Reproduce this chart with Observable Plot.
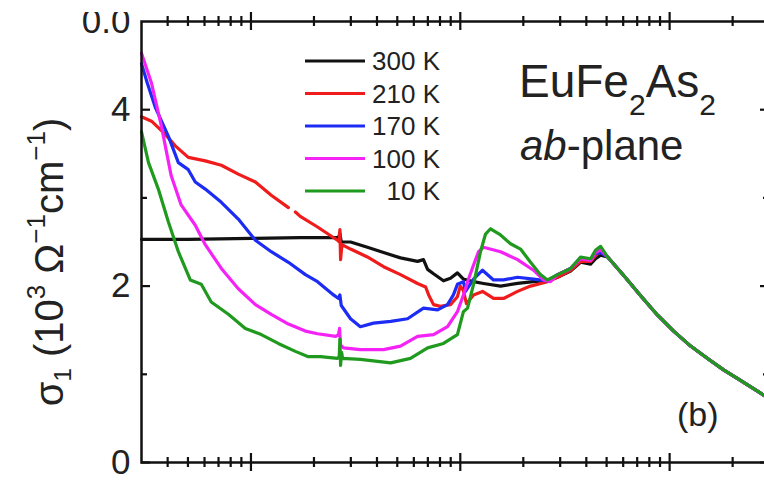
<!DOCTYPE html>
<html><head><meta charset="utf-8">
<script src="https://cdn.jsdelivr.net/npm/d3@7"></script>
<script src="https://cdn.jsdelivr.net/npm/@observablehq/plot@0.6"></script>
<style>
html,body{margin:0;padding:0;background:#fff;overflow:hidden;}
#wrap{position:relative;width:764px;height:482px;overflow:hidden;background:#fff;}
</style></head><body><div id="wrap"></div>
<script>
// ---- data (frequency in cm^-1, sigma_1 in 10^3 Ohm^-1 cm^-1) ----
const seriesNames = ["300 K", "210 K", "170 K", "100 K", "10 K"];
const seriesColors = ["#111111", "#f01c1c", "#1c2cf5", "#f522f5", "#1f9a1f"];

const freq300 = [30, 50, 100, 172, 248, 262, 266, 270, 299, 360, 430, 518, 625, 667, 698, 745, 831, 898, 969, 1035, 1157, 1291, 1557, 1877, 2237, 2610, 2915, 3365, 3757, 4193, 4431, 4681];
const sig300  = [2.53, 2.53, 2.54, 2.55, 2.55, 2.55, 2.60, 2.50, 2.50, 2.44, 2.38, 2.32, 2.28, 2.30, 2.19, 2.14, 2.06, 2.09, 2.15, 2.08, 2.05, 2.03, 2.00, 2.03, 2.05, 2.06, 2.10, 2.17, 2.27, 2.25, 2.31, 2.35];

const freq210 = [30, 33.5, 39, 43.5, 50.2, 60.5, 72.2, 87, 105, 125, 151, 157, 163, 172, 208, 259, 264, 266, 268, 272, 299, 360, 430, 518, 625, 683, 706, 745, 804, 898, 969, 1000, 1035, 1070, 1157, 1277, 1441, 1608, 1877, 2166, 2610, 2915, 3365, 3757, 4193, 4431, 4681];
const sig210  = [3.92, 3.87, 3.72, 3.59, 3.46, 3.42, 3.37, 3.27, 3.18, 3.03, 2.89, NaN, 2.84, 2.79, 2.67, 2.52, 2.50, 2.64, 2.30, 2.47, 2.42, 2.33, 2.22, 2.13, 2.03, 1.99, 1.90, 1.79, 1.77, 1.79, 1.88, 2.00, 1.95, 1.80, 1.90, 1.94, 1.86, 1.86, 1.94, 2.00, 2.05, 2.10, 2.18, 2.28, 2.28, 2.35, 2.39];

const freq170 = [30, 32, 35, 40.3, 45, 50.2, 54.2, 60.5, 72.2, 87, 105, 125, 151, 182, 208, 248, 262, 266, 270, 299, 333, 385, 465, 560, 667, 779, 869, 927, 969, 1035, 1059, 1157, 1277, 1441, 1608, 1877, 2237, 2610, 2915, 3365, 3757, 4193, 4431, 4681];
const sig170  = [4.52, 4.30, 4.02, 3.70, 3.40, 3.32, 3.18, 3.10, 2.95, 2.76, 2.52, 2.39, 2.27, 2.13, 2.05, 1.90, 1.86, 1.90, 1.78, 1.63, 1.54, 1.58, 1.60, 1.63, 1.75, 1.73, 1.79, 1.90, 2.02, 2.05, 1.94, 2.08, 2.18, 2.07, 2.07, 2.10, 2.08, 2.06, 2.13, 2.20, 2.32, 2.30, 2.37, 2.38];

const freq100 = [30, 33.5, 37.3, 41.6, 46.4, 54.2, 60.5, 72.2, 87, 105, 125, 151, 182, 208, 254, 262, 265, 268, 277, 333, 430, 518, 625, 745, 869, 969, 1035, 1095, 1157, 1222, 1291, 1557, 1877, 2237, 2497, 2697, 2915, 3365, 3757, 4193, 4431, 4681];
const sig100  = [4.64, 4.30, 3.82, 3.25, 2.92, 2.69, 2.47, 2.20, 1.97, 1.79, 1.68, 1.57, 1.49, 1.46, 1.43, 1.45, 1.52, 1.33, 1.30, 1.28, 1.28, 1.32, 1.43, 1.45, 1.54, 1.71, 1.90, 2.08, 2.24, 2.39, 2.44, 2.39, 2.30, 2.18, 2.07, 2.05, 2.13, 2.20, 2.31, 2.29, 2.38, 2.41];

const freq10 = [30, 32.4, 36.1, 40.3, 45, 51.3, 57.9, 64.6, 78, 94, 112, 135, 163, 188, 215, 259, 264, 266, 268, 271, 274, 333, 465, 578, 698, 831, 969, 1035, 1083, 1157, 1249, 1320, 1395, 1557, 1738, 1940, 2166, 2416, 2610, 2915, 3365, 3757, 4193, 4431, 4681];
const sig10  = [3.75, 3.40, 3.10, 2.73, 2.39, 2.07, 2.02, 1.82, 1.68, 1.52, 1.45, 1.35, 1.26, 1.20, 1.20, 1.18, 1.20, 1.40, 1.10, 1.25, 1.18, 1.17, 1.13, 1.18, 1.30, 1.35, 1.45, 1.71, 1.75, 2.02, 2.39, 2.59, 2.65, 2.58, 2.48, 2.42, 2.27, 2.13, 2.07, 2.13, 2.20, 2.33, 2.31, 2.41, 2.45];

// high-frequency part where all temperatures coincide
const tailFreq = [5056, 6036, 7272, 8760, 10450, 12600, 15180, 18100, 21800, 26270, 30000];
const tailSig  = [2.33, 2.12, 1.89, 1.67, 1.49, 1.32, 1.18, 1.05, 0.93, 0.81, 0.72];

const xMajorTicks = [100, 1000, 10000];
const xMinorTicks = [40, 50, 60, 70, 80, 90, 200, 300, 400, 500, 600, 700, 800, 900, 2000, 3000, 4000, 5000, 6000, 7000, 8000, 9000, 20000];
const yMajorTicks = [0, 2, 4];
const yMinorTicks = [1, 3];
const yLabelValues = [0, 2, 4, 5];
const yLabelTexts = ["0", "2", "4", "0.0"];

// ---- build table ----
const freqs = [freq300, freq210, freq170, freq100, freq10];
const sigs = [sig300, sig210, sig170, sig100, sig10];
const rows = [];
seriesNames.forEach((name, i) => {
  freqs[i].forEach((f, j) => rows.push({T: name, f, s: sigs[i][j]}));
  tailFreq.forEach((f, j) => rows.push({T: name, f, s: tailSig[j]}));
});

const W = 769, H = 482, ML = 141, MT = 21, MB = 20;
const FW = W - ML, FH = H - MT - MB;
const font = "'Liberation Sans', Arial, Helvetica, sans-serif";

const tickStyle = {stroke: "#111", strokeWidth: 2.2};
const chart = Plot.plot({
  width: W, height: H,
  marginLeft: ML, marginRight: 0, marginTop: MT, marginBottom: MB,
  x: {type: "log", domain: [30, 30000], axis: null},
  y: {domain: [0, 5], axis: null},
  style: {fontFamily: font, background: "white", maxWidth: "none", overflow: "visible"},
  marks: [
    ...seriesNames.map((n, i) => Plot.line(rows.filter(r => r.T === n), {
      x: "f", y: "s", stroke: seriesColors[i], strokeWidth: 3.2, strokeLinejoin: "round"
    })),
    Plot.frame({stroke: "#111", strokeWidth: 2.5}),
    // x ticks crossing bottom and top axes
    Plot.ruleX(xMajorTicks, {x: d => d, insetTop: FH - 9, insetBottom: -9, ...tickStyle}),
    Plot.ruleX(xMajorTicks, {x: d => d, insetTop: -9, insetBottom: FH - 9, ...tickStyle}),
    Plot.ruleX(xMinorTicks, {x: d => d, insetTop: FH - 5, insetBottom: -5, ...tickStyle}),
    Plot.ruleX(xMinorTicks, {x: d => d, insetTop: -5, insetBottom: FH - 5, ...tickStyle}),
    // y ticks pointing inward on left and right
    Plot.ruleY(yMajorTicks, {y: d => d, insetRight: FW - 9, ...tickStyle}),
    Plot.ruleY(yMajorTicks, {y: d => d, insetLeft: FW - 9, ...tickStyle}),
    Plot.ruleY(yMinorTicks, {y: d => d, insetRight: FW - 6, ...tickStyle}),
    Plot.ruleY(yMinorTicks, {y: d => d, insetLeft: FW - 6, ...tickStyle}),
    Plot.text(yLabelValues, {y: d => d, text: (d, i) => yLabelTexts[i], frameAnchor: "left",
      textAnchor: "end", dx: -11, fontSize: 35, fill: "#222"})
  ]
});
document.getElementById("wrap").appendChild(chart);

const svg = d3.select(chart);
// hide the top part of the cropped label belonging to the panel above
svg.append("rect").attr("x", 50).attr("y", 0).attr("width", 86).attr("height", 12).attr("fill", "white");

// y-axis title
const yl = svg.append("text")
  .attr("transform", "translate(63,262) rotate(-90)")
  .attr("text-anchor", "middle")
  .attr("font-family", font).attr("font-size", 40).attr("fill", "#222");
yl.append("tspan").text("σ");
yl.append("tspan").attr("font-size", 24).attr("dy", 8).text("1");
yl.append("tspan").attr("dy", -8).text(" (10");
yl.append("tspan").attr("font-size", 26).attr("dy", -18).text("3");
yl.append("tspan").attr("dy", 18).text(" Ω");
yl.append("tspan").attr("font-size", 26).attr("dy", -18).text("−1");
yl.append("tspan").attr("dy", 18).text("cm");
yl.append("tspan").attr("font-size", 26).attr("dy", -18).text("−1");
yl.append("tspan").attr("dy", 18).text(")");

// legend
seriesNames.forEach((n, i) => {
  const ly = 61 + i * 32.5;
  svg.append("line").attr("x1", 305).attr("x2", 365).attr("y1", ly).attr("y2", ly)
    .attr("stroke", seriesColors[i]).attr("stroke-width", 3.2);
  svg.append("text").attr("x", 440).attr("y", ly + 9.3).attr("text-anchor", "end")
    .attr("font-family", font).attr("font-size", 26).attr("fill", "#222").text(n);
});

// annotations
const t1 = svg.append("text").attr("x", 519).attr("y", 97).attr("text-anchor", "start")
  .attr("font-family", font).attr("font-size", 46).attr("fill", "#222");
t1.append("tspan").text("EuFe");
t1.append("tspan").attr("font-size", 30).attr("dy", 18).text("2");
t1.append("tspan").attr("dy", -18).text("As");
t1.append("tspan").attr("font-size", 30).attr("dy", 18).text("2");

const t2 = svg.append("text").attr("x", 520).attr("y", 160).attr("text-anchor", "start")
  .attr("font-family", font).attr("font-size", 42).attr("fill", "#222");
t2.append("tspan").attr("font-style", "italic").text("ab");
t2.append("tspan").text("-plane");

svg.append("text").attr("x", 677).attr("y", 426).attr("text-anchor", "start")
  .attr("font-family", font).attr("font-size", 34).attr("fill", "#222").text("(b)");
</script></body></html>
